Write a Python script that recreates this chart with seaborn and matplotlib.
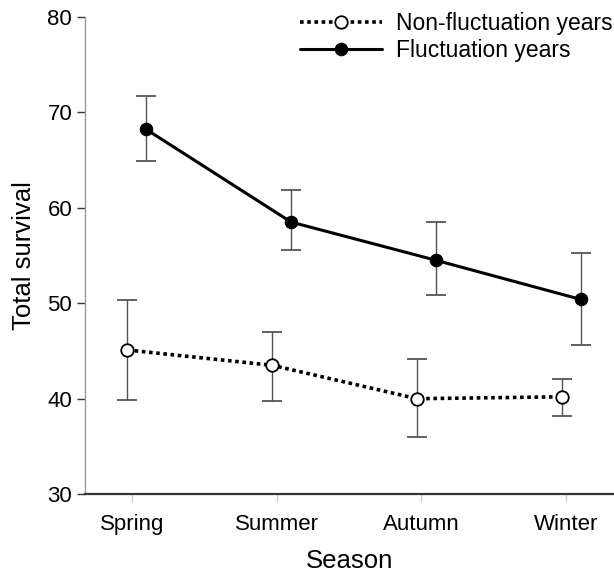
import numpy as np
import pandas as pd
import matplotlib
matplotlib.use("Agg")
import matplotlib.pyplot as plt
import seaborn as sns

# values
seasons = ["Spring", "Summer", "Autumn", "Winter"]
fluct_mean = [68.2, 58.5, 54.5, 50.4]
fluct_low = [64.9, 55.6, 50.9, 45.6]
fluct_high = [71.7, 61.9, 58.5, 55.3]
nonfluct_mean = [45.1, 43.5, 40.0, 40.2]
nonfluct_low = [39.9, 39.8, 36.0, 38.2]
nonfluct_high = [50.3, 47.0, 44.2, 42.1]

sns.set_style("white")
plt.rcParams["font.family"] = ["Liberation Sans", "DejaVu Sans"]
plt.rcParams["text.color"] = "black"
plt.rcParams["axes.labelcolor"] = "black"
plt.rcParams["xtick.labelcolor"] = "black"
plt.rcParams["ytick.labelcolor"] = "black"

fig = plt.figure(figsize=(6.14, 5.78), dpi=100)
ax = fig.add_axes([0.138, 0.145, 0.862, 0.826])

pos = np.arange(len(seasons))
df_non = pd.DataFrame({"x": pos - 0.03, "y": nonfluct_mean})
df_fl = pd.DataFrame({"x": pos + 0.10, "y": fluct_mean})

# error bars first so lines/markers sit on top
for d, lo, hi in [(df_non, nonfluct_low, nonfluct_high), (df_fl, fluct_low, fluct_high)]:
    yerr = [d["y"] - np.array(lo), np.array(hi) - d["y"]]
    ax.errorbar(d["x"], d["y"], yerr=yerr, fmt="none", ecolor="#555555",
                elinewidth=1.0, capsize=7.5, capthick=1.3, zorder=1)

sns.lineplot(data=df_non, x="x", y="y", ax=ax, color="black", linestyle=(0, (1, 1)),
             linewidth=2.6, marker="o", markersize=9, markerfacecolor="white",
             markeredgecolor="black", markeredgewidth=1.3,
             label="Non-fluctuation years", zorder=3)
sns.lineplot(data=df_fl, x="x", y="y", ax=ax, color="black", linewidth=2.2,
             marker="o", markersize=9, markerfacecolor="black",
             markeredgecolor="black", label="Fluctuation years", zorder=3)

ax.set_xlim(-0.325, 3.33)
ax.set_ylim(30, 80)
ax.set_yticks([30, 40, 50, 60, 70, 80])
ax.set_xticks(pos)
ax.set_xticklabels(seasons)

ax.set_xlabel("Season", fontsize=18.5, labelpad=10)
ax.set_ylabel("Total survival", fontsize=18.5, labelpad=8)

for side in ["top", "right"]:
    ax.spines[side].set_visible(False)
ax.spines["left"].set_color("#999999")
ax.spines["left"].set_linewidth(1.0)
ax.spines["bottom"].set_color("#333333")
ax.spines["bottom"].set_linewidth(1.6)

ax.tick_params(axis="y", direction="out", length=6, width=1.0, color="#333333",
               labelsize=16, pad=3, left=True)
ax.tick_params(axis="x", direction="out", length=6, width=1.0, color="#cccccc",
               labelsize=16, pad=8, bottom=True)

leg = ax.legend(loc="upper right", bbox_to_anchor=(1.015, 1.03), frameon=False,
                fontsize=16.5, handlelength=3.6, handletextpad=0.6,
                labelspacing=0.2, borderaxespad=0)

fig.savefig("out.png", dpi=100)
